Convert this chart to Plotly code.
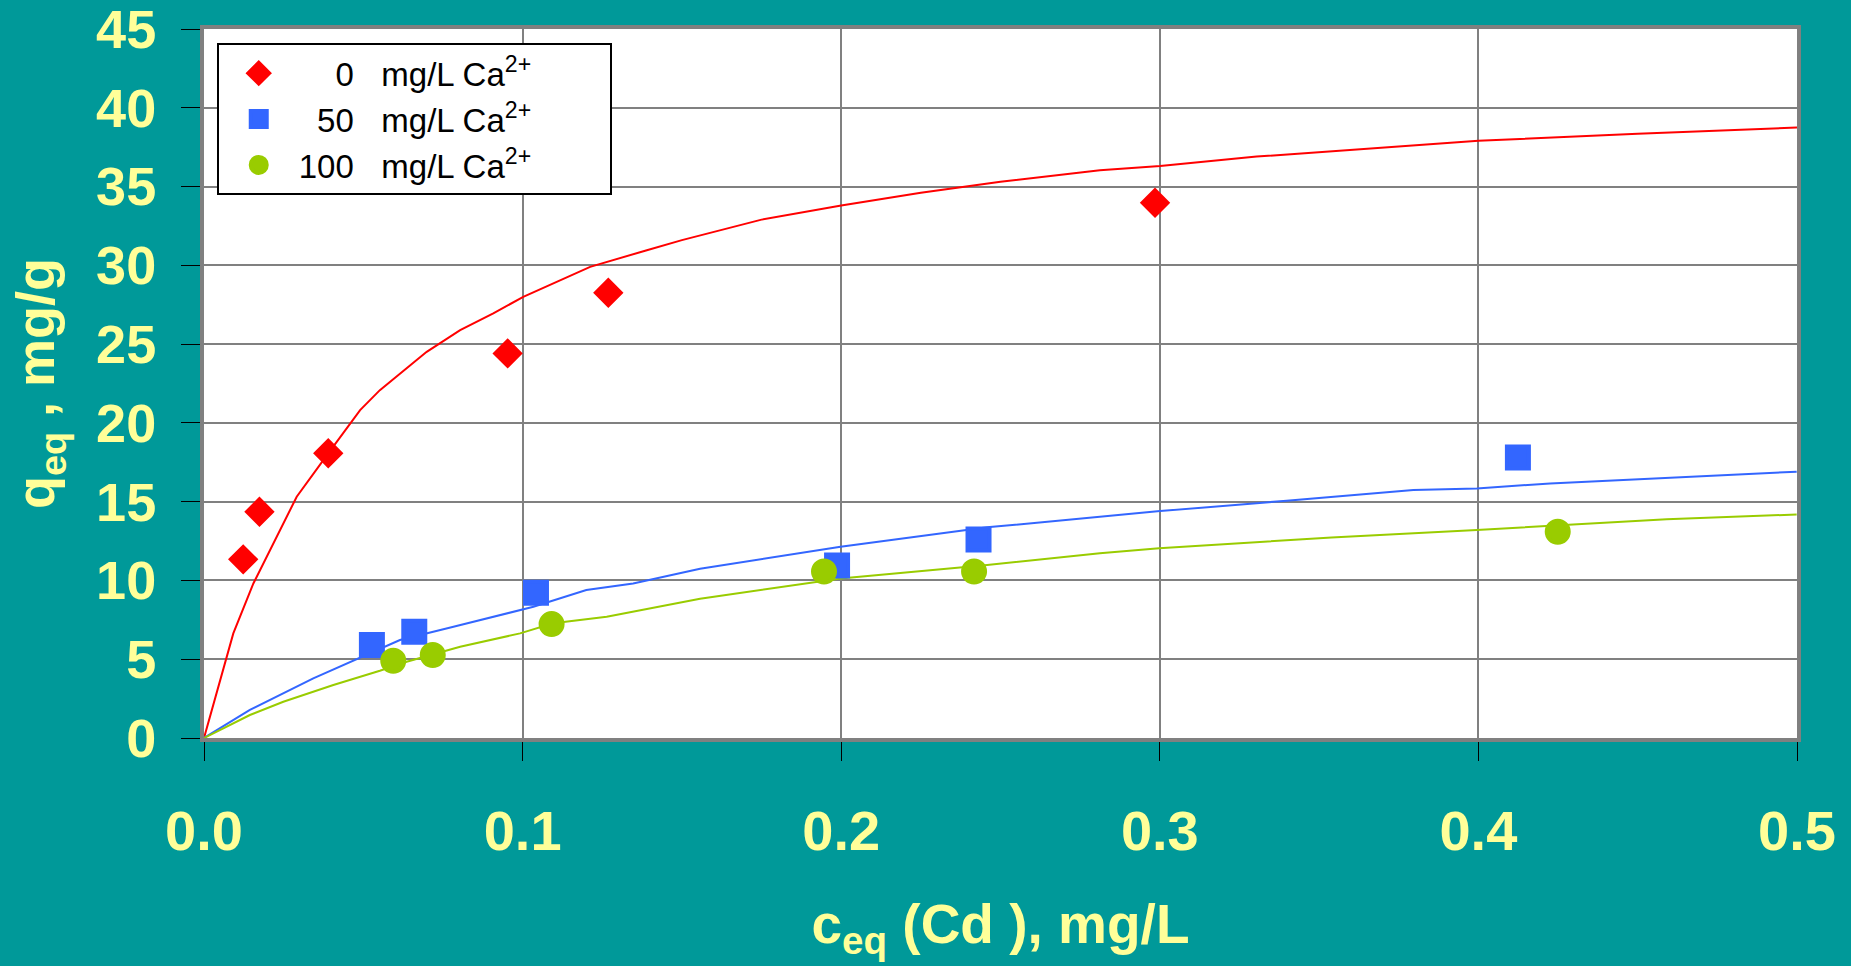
import plotly.graph_objects as go

c0 = [0.0123, 0.0174, 0.0390, 0.0953, 0.1269, 0.2985]
q0 = [11.34, 14.36, 18.07, 24.41, 28.26, 33.97]

c50 = [0.0527, 0.0660, 0.1042, 0.1987, 0.2431, 0.4124]
q50 = [5.90, 6.74, 9.22, 10.95, 12.60, 17.81]

c100 = [0.0594, 0.0718, 0.1091, 0.1946, 0.2417, 0.4249]
q100 = [4.90, 5.27, 7.23, 10.57, 10.57, 13.09]

# fitted curves
fit0_c = [0.0, 0.0092, 0.0155, 0.0291, 0.0390, 0.0490, 0.0552, 0.0699, 0.0804, 0.0908,
          0.1002, 0.1107, 0.1212, 0.1390, 0.1500, 0.1750, 0.2000, 0.2250, 0.2500,
          0.2812, 0.3001, 0.3304, 0.3544, 0.4000, 0.4500, 0.5000]
fit0_q = [0.0, 6.64, 9.81, 15.31, 18.07, 20.81, 22.08, 24.51, 25.89, 26.95,
          28.00, 28.95, 29.90, 30.96, 31.60, 32.90, 33.80, 34.60, 35.30,
          36.04, 36.30, 36.90, 37.25, 37.90, 38.35, 38.75]

fit50_c = [0.0, 0.0144, 0.0343, 0.0448, 0.0615, 0.0783, 0.0908, 0.1034, 0.1200, 0.1347,
           0.1557, 0.1998, 0.2458, 0.2812, 0.3001, 0.3398, 0.3796, 0.3995, 0.4225, 0.4999]
fit50_q = [0.0, 1.78, 3.79, 4.74, 6.22, 7.06, 7.70, 8.33, 9.39, 9.81,
           10.74, 12.14, 13.37, 14.04, 14.40, 15.06, 15.74, 15.84, 16.16, 16.90]

fit100_c = [0.0, 0.0144, 0.0249, 0.0406, 0.0552, 0.0636, 0.0804, 0.0992, 0.1096, 0.1264,
            0.1557, 0.1998, 0.2458, 0.2812, 0.2998, 0.3539, 0.3995, 0.4591, 0.4999]
fit100_q = [0.0, 1.46, 2.30, 3.36, 4.27, 4.84, 5.79, 6.64, 7.28, 7.70,
            8.84, 10.13, 10.98, 11.72, 12.04, 12.73, 13.20, 13.88, 14.19]

x_ticks = [0.0, 0.1, 0.2, 0.3, 0.4, 0.5]
y_ticks = [0, 5, 10, 15, 20, 25, 30, 35, 40, 45]

SP = "\u00a0\u00a0\u00a0"
TAIL = "\u00a0" * 8
names = ["\u2007\u20070" + SP + "mg/L Ca<sup>2+</sup>" + TAIL,
         "\u200750" + SP + "mg/L Ca<sup>2+</sup>" + TAIL,
         "100" + SP + "mg/L Ca<sup>2+</sup>" + TAIL]

RED = "#FF0000"
BLUE = "#3366FF"
GREEN = "#99CC00"
TEAL = "#009999"
YELLOW = "#FFFF99"
FONT = "Liberation Sans, Arial, sans-serif"

fig = go.Figure()

# fitted lines
for xc, yq, col in [(fit0_c, fit0_q, RED), (fit50_c, fit50_q, BLUE), (fit100_c, fit100_q, GREEN)]:
    fig.add_trace(go.Scatter(x=xc, y=yq, mode="lines", line=dict(color=col, width=2),
                             showlegend=False, hoverinfo="skip"))

# measured points
fig.add_trace(go.Scatter(x=c0, y=q0, mode="markers", name=names[0],
                         marker=dict(symbol="diamond", size=19, color=RED,
                                     line=dict(width=4, color=RED))))
fig.add_trace(go.Scatter(x=c50, y=q50, mode="markers", name=names[1],
                         marker=dict(symbol="square", size=22, color=BLUE,
                                     line=dict(width=4, color=BLUE))))
fig.add_trace(go.Scatter(x=c100, y=q100, mode="markers", name=names[2],
                         marker=dict(symbol="circle", size=22, color=GREEN,
                                     line=dict(width=4, color=GREEN))))

fig.update_layout(
    width=1851, height=966,
    margin=dict(l=204, r=54, t=29, b=228),
    paper_bgcolor=TEAL, plot_bgcolor="white",
    font=dict(family=FONT, color=YELLOW),
    showlegend=True,
    legend=dict(x=0.008, y=0.98, xanchor="left", yanchor="top",
                bgcolor="white", bordercolor="black", borderwidth=2,
                font=dict(family=FONT, size=33, color="black"),
                itemwidth=70,
                traceorder="normal"),
)

fig.update_xaxes(
    range=[0, 0.5], tickvals=x_ticks, ticktext=[f"{v:.1f}" for v in x_ticks],
    showgrid=True, gridcolor="#808080", gridwidth=2,
    showline=True, linecolor="#808080", linewidth=4, mirror=True,
    ticks="outside", ticklen=19, tickcolor="black", tickwidth=1,
    ticklabelstandoff=22, ticklabeloverflow="allow",
    tickfont=dict(family=FONT, size=56, color=YELLOW, weight="bold"),
    zeroline=False, automargin=False,
    title=dict(text="c<sub>eq</sub> (Cd ), mg/L", standoff=44,
               font=dict(family=FONT, size=55, color=YELLOW, weight="bold")),
)
fig.update_yaxes(
    range=[0, 45], tickvals=y_ticks,
    showgrid=True, gridcolor="#808080", gridwidth=2,
    showline=True, linecolor="#808080", linewidth=4, mirror=True,
    ticks="outside", ticklen=19, tickcolor="black", tickwidth=1,
    ticklabelstandoff=14, ticklabeloverflow="allow",
    tickfont=dict(family=FONT, size=54, color=YELLOW, weight="bold"),
    zeroline=False, automargin=False,
    title=dict(text="q<sub>eq</sub> , mg/g", standoff=25,
               font=dict(family=FONT, size=54, color=YELLOW, weight="bold")),
)

fig.write_html("out.html")
